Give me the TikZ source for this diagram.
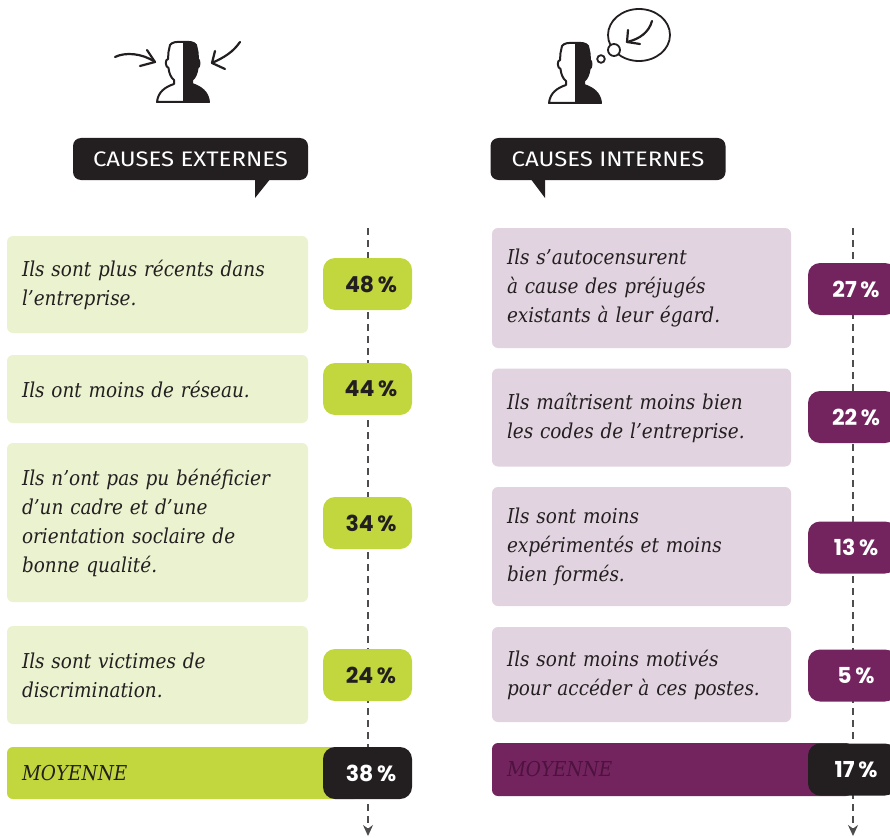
\documentclass[tikz,border=0pt]{standalone}
\usepackage{fontspec}
\setmainfont{DejaVu Serif}[FakeStretch=0.9]
\newfontfamily\hdfont{Fira Sans}[FakeStretch=1.14]
\newfontfamily\pcfont{Poppins}
\usetikzlibrary{arrows.meta}
\definecolor{dk}{RGB}{35,31,32}
\definecolor{lgreen}{RGB}{234,242,207}
\definecolor{bgreen}{RGB}{193,215,61}
\definecolor{purp}{RGB}{115,36,95}
\definecolor{lpurp}{RGB}{225,211,223}
\definecolor{purptext}{RGB}{78,18,62}
\newcommand\hdpath{(0,0) .. controls (-6,-0.5) and (-11,0) .. (-13,3)
 -- (-14.5,10) -- (-15,17)
 .. controls (-18,17) and (-18,25) .. (-14.5,26)
 .. controls (-14,31) and (-12,36) .. (-9,38)
 -- (-9,42)
 .. controls (-18,45) and (-25,50) .. (-26,60)
 -- (26,60)
 .. controls (25,50) and (18,45) .. (9,42)
 -- (9,38)
 .. controls (12,36) and (14,31) .. (14.5,26)
 .. controls (17,25) and (17,18) .. (15,17)
 -- (14.5,10) -- (13,3)
 .. controls (11,0) and (6,-0.5) .. (0,0) -- cycle}
\tikzset{
  headpic/.pic={
    \fill[white] \hdpath;
    \begin{scope}
      \clip (0,-5) rectangle (40,70);
      \fill[dk] \hdpath;
    \end{scope}
    \draw[dk, line width=2pt, line join=round] \hdpath;
  },
  sketch/.style={dk, line width=2.2pt, line cap=round, line join=round},
  header/.style={fill=dk, rounded corners=8pt, text=white, minimum width=235pt, minimum height=42pt, inner sep=0pt, font=\hdfont\fontsize{21}{24}\selectfont},
  tboxg/.style={fill=lgreen, rounded corners=6pt, text=dk, align=left, inner xsep=15pt, inner ysep=0pt, text width=271pt, font=\itshape\fontsize{20.5}{29}\selectfont},
  tboxp/.style={tboxg, fill=lpurp, text width=269pt},
  pbox/.style={rounded corners=12pt, minimum width=89pt, minimum height=52pt, inner sep=0pt, font=\pcfont\bfseries\fontsize{22}{24}\selectfont},
  pgreen/.style={pbox, fill=bgreen, text=dk},
  ppurp/.style={pbox, fill=purp, text=white},
  pblack/.style={pbox, fill=dk, text=white},
  guide/.style={draw=dk!80, line width=1.4pt, dash pattern=on 7pt off 5pt, -{Stealth[length=11pt,width=10pt]}},
}
\newcommand\pct[1]{\hspace*{7pt}#1\,\%}
\begin{document}
\begin{tikzpicture}[x=1pt,y=-1pt]
\useasboundingbox (0,0) rectangle (890,837);
\clip (0,0) rectangle (890,837);

% icons
\pic at (183,42) {headpic};
\pic at (575,43) {headpic};
\draw[sketch] (115,57) .. controls (125,52) and (142,53) .. (155,62);
\draw[sketch] (147,50) -- (155,62) -- (140,66);
\draw[sketch] (240,42) .. controls (233,52) and (225,57) .. (212,63);
\draw[sketch] (215,51) -- (212,63) -- (225,69);
\draw[dk, line width=1.8pt] (639,35) ellipse [x radius=31pt, y radius=26pt];
\draw[dk, line width=1.8pt, fill=white] (614,50) circle (6pt);
\draw[dk, line width=1.8pt] (601,59) circle (3.8pt);
\draw[sketch] (652,21) .. controls (649,32) and (640,39) .. (627,42);
\draw[sketch] (628,30) -- (627,42) -- (640,44);

% headers
\node[header] (h1) at (190.5,159) {CAUSES EXTERNES};
\fill[dk] (255,178) -- (255,198) -- (271,178) -- cycle;
\node[header] (h2) at (608,159) {CAUSES INTERNES};
\fill[dk] (530,178) -- (545,198) -- (545,178) -- cycle;

% guide lines
\coordinate (g1a) at (368,228);
\coordinate (g1b) at (368,836);
\coordinate (g2a) at (853,228);
\coordinate (g2b) at (853,836);
\draw[guide] (g1a) -- (g1b);
\draw[guide] (g2a) -- (g2b);

% left column
\node[tboxg, minimum height=97pt] (l1) at (157.5,284.5) {Ils sont plus récents dans\\ l’entreprise.};
\node[tboxg, minimum height=68pt] (l2) at (157.5,389) {Ils ont moins de réseau.};
\node[tboxg, minimum height=159pt] (l3) at (157.5,522.5) {Ils n’ont pas pu bénéficier\\ d’un cadre et d’une\\ orientation soclaire de\\ bonne qualité.};
\node[tboxg, minimum height=98pt] (l4) at (157.5,675) {Ils sont victimes de\\ discrimination.};
\node[pgreen] (p1) at (367.5,284) {\pct{48}};
\node[pgreen] (p2) at (367.5,389) {\pct{44}};
\node[pgreen] (p3) at (367.5,523) {\pct{34}};
\node[pgreen] (p4) at (367.5,675) {\pct{24}};
\node[tboxg, fill=bgreen, text width=323pt, minimum height=52pt] (lm) at (183.5,773) {MOYENNE};
\node[pblack] (pm1) at (367.5,773) {\pct{38}};

% right column
\node[tboxp, minimum height=120pt] (r1) at (641.5,288) {Ils s’autocensurent\\ à cause des préjugés\\ existants à leur égard.};
\node[tboxp, minimum height=98pt] (r2) at (641.5,417.5) {Ils maîtrisent moins bien\\ les codes de l’entreprise.};
\node[tboxp, minimum height=119pt] (r3) at (641.5,546.5) {Ils sont moins\\ expérimentés et moins\\ bien formés.};
\node[tboxp, minimum height=95pt] (r4) at (641.5,674.5) {Ils sont moins motivés\\ pour accéder à ces postes.};
\node[ppurp] (q1) at (852.5,289) {\pct{27}};
\node[ppurp] (q2) at (852.5,417) {\pct{22}};
\node[ppurp] (q3) at (852.5,547.5) {\pct{13}};
\node[ppurp] (q4) at (852.5,675.5) {\pct{5}};
\node[tboxp, fill=purp, text=purptext, text width=330pt, minimum height=53pt] (rm) at (672,769.5) {MOYENNE};
\node[pblack] (qm) at (852.5,769.5) {\pct{17}};
\end{tikzpicture}
\end{document}
